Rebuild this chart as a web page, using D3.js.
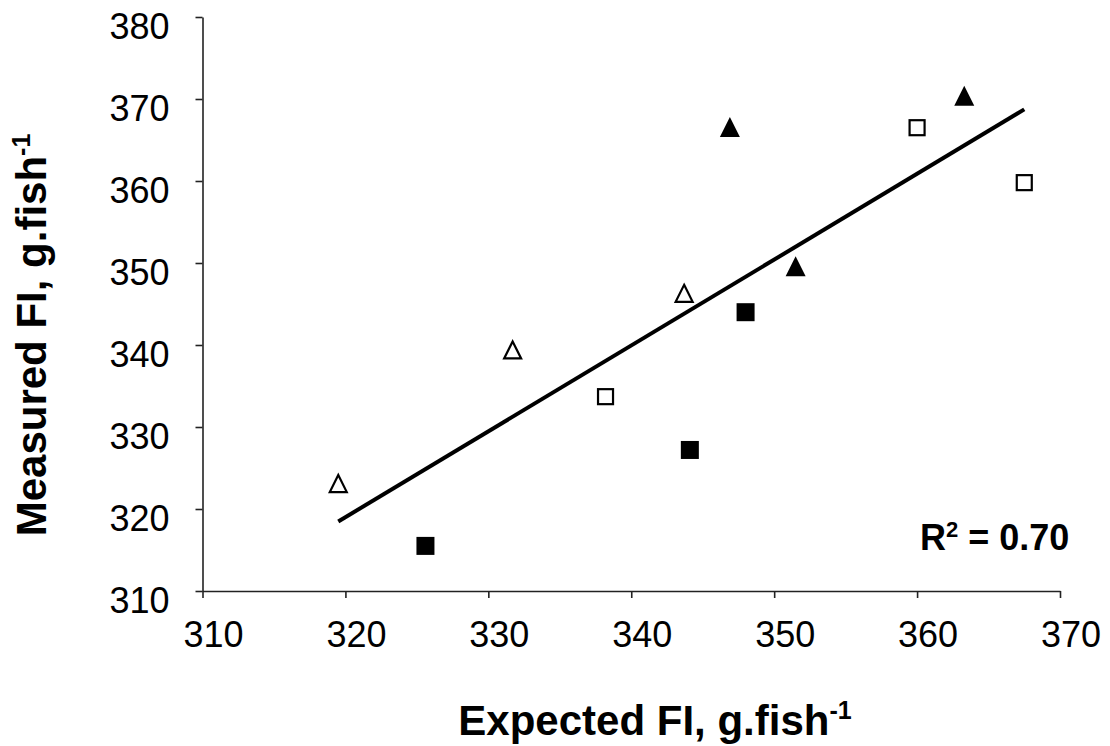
<!DOCTYPE html>
<html>
<head>
<meta charset="utf-8">
<script src="https://cdn.jsdelivr.net/npm/d3@7"></script>
<style>
  html, body { margin: 0; padding: 0; background: #fff; }
  svg { display: block; }
  text { font-family: "Liberation Sans", Arial, sans-serif; fill: #000; }
</style>
</head>
<body>
<svg id="chart" width="1110" height="746"></svg>
<script>
// ---- data ----
const xTicks = [310, 320, 330, 340, 350, 360, 370];
const yTicks = [310, 320, 330, 340, 350, 360, 370, 380];

const openTriX = [319.5, 331.7, 343.7];
const openTriY = [323.1, 339.4, 346.3];

const filledSqX = [325.6, 344.1, 348.0];
const filledSqY = [315.5, 327.2, 344.0];

const openSqX = [338.2, 360.0, 367.5];
const openSqY = [333.7, 366.5, 359.8];

const filledTriX = [346.9, 363.3, 351.5];
const filledTriY = [366.6, 370.4, 349.6];

const xTitle = "Expected FI, g.fish";
const yTitle = "Measured FI, g.fish";
const titleSup = "-1";
const r2Label = "R";
const r2Rest = " = 0.70";

// ---- layout ----
const svg = d3.select("#chart");
const x = d3.scaleLinear().domain([310, 370]).range([202.5, 1060]);
const y = d3.scaleLinear().domain([310, 380]).range([591, 17]);

// axes
const xAxis = svg.append("g").attr("transform", "translate(0,591)")
  .call(d3.axisBottom(x).tickValues(xTicks).tickSize(7).tickSizeOuter(0).tickFormat(d3.format("d")));
const yAxis = svg.append("g").attr("transform", "translate(202.5,0)")
  .call(d3.axisLeft(y).tickValues(yTicks).tickSize(7).tickSizeOuter(0).tickFormat(d3.format("d")));

[xAxis, yAxis].forEach(g => {
  g.select(".domain").attr("stroke", "#222").attr("stroke-width", 1.6);
  g.selectAll(".tick line").attr("stroke", "#222").attr("stroke-width", 1.6);
  g.selectAll(".tick text").attr("font-size", 36).attr("fill", "#000")
    .attr("font-family", '"Liberation Sans", Arial, sans-serif');
});
xAxis.selectAll(".tick text").attr("y", 56).attr("dy", 0).attr("dx", 10.5);
yAxis.selectAll(".tick text").attr("x", -33).attr("dy", 21.5).attr("y", 0);

// regression line from data
const allX = [...openTriX, ...filledSqX, ...openSqX, ...filledTriX];
const allY = [...openTriY, ...filledSqY, ...openSqY, ...filledTriY];
const mx = d3.mean(allX), my = d3.mean(allY);
const slope = d3.sum(allX.map((v, i) => (v - mx) * (allY[i] - my))) / d3.sum(allX.map(v => (v - mx) ** 2));
const icpt = my - slope * mx;
const [x0, x1] = d3.extent(allX);
svg.append("line")
  .attr("x1", x(x0)).attr("y1", y(icpt + slope * x0))
  .attr("x2", x(x1)).attr("y2", y(icpt + slope * x1))
  .attr("stroke", "#000").attr("stroke-width", 4);

// markers
const sqSym = d3.symbol().type(d3.symbolSquare);
const triPath = (s) => `M0,${-s/2}L${s/2},${s/2}L${-s/2},${s/2}Z`;

function drawSquares(xs, ys, filled) {
  svg.append("g").selectAll("rect").data(xs.map((v, i) => [v, ys[i]])).join("rect")
    .attr("x", d => x(d[0]) - (filled ? 9 : 7.5))
    .attr("y", d => y(d[1]) - (filled ? 9 : 7.5))
    .attr("width", filled ? 18 : 15).attr("height", filled ? 18 : 15)
    .attr("fill", filled ? "#000" : "#fff")
    .attr("stroke", "#000").attr("stroke-width", filled ? 0 : 2.2);
}
function drawTris(xs, ys, filled) {
  svg.append("g").selectAll("path").data(xs.map((v, i) => [v, ys[i]])).join("path")
    .attr("transform", d => `translate(${x(d[0])},${y(d[1])})`)
    .attr("d", triPath(filled ? 20 : 17))
    .attr("fill", filled ? "#000" : "#fff")
    .attr("stroke", "#000").attr("stroke-width", filled ? 0 : 2.2)
    .attr("stroke-linejoin", "miter");
}
drawTris(openTriX, openTriY, false);
drawSquares(filledSqX, filledSqY, true);
drawSquares(openSqX, openSqY, false);
drawTris(filledTriX, filledTriY, true);

// R² label
const r2 = svg.append("text").attr("x", 920).attr("y", 550)
  .attr("font-size", 36).attr("font-weight", "bold");
r2.append("tspan").text(r2Label);
r2.append("tspan").text("2").attr("font-size", 22).attr("dy", -13);
r2.append("tspan").text(r2Rest).attr("dy", 13);

// axis titles
const xt = svg.append("text").attr("x", 655).attr("y", 735)
  .attr("text-anchor", "middle").attr("font-size", 42).attr("font-weight", "bold");
xt.append("tspan").text(xTitle);
xt.append("tspan").text(titleSup).attr("font-size", 25).attr("dy", -16);

const yt = svg.append("text")
  .attr("transform", "translate(46,335) rotate(-90)")
  .attr("text-anchor", "middle").attr("font-size", 42).attr("font-weight", "bold");
yt.append("tspan").text(yTitle);
yt.append("tspan").text(titleSup).attr("font-size", 25).attr("dy", -16);
</script>
</body>
</html>
